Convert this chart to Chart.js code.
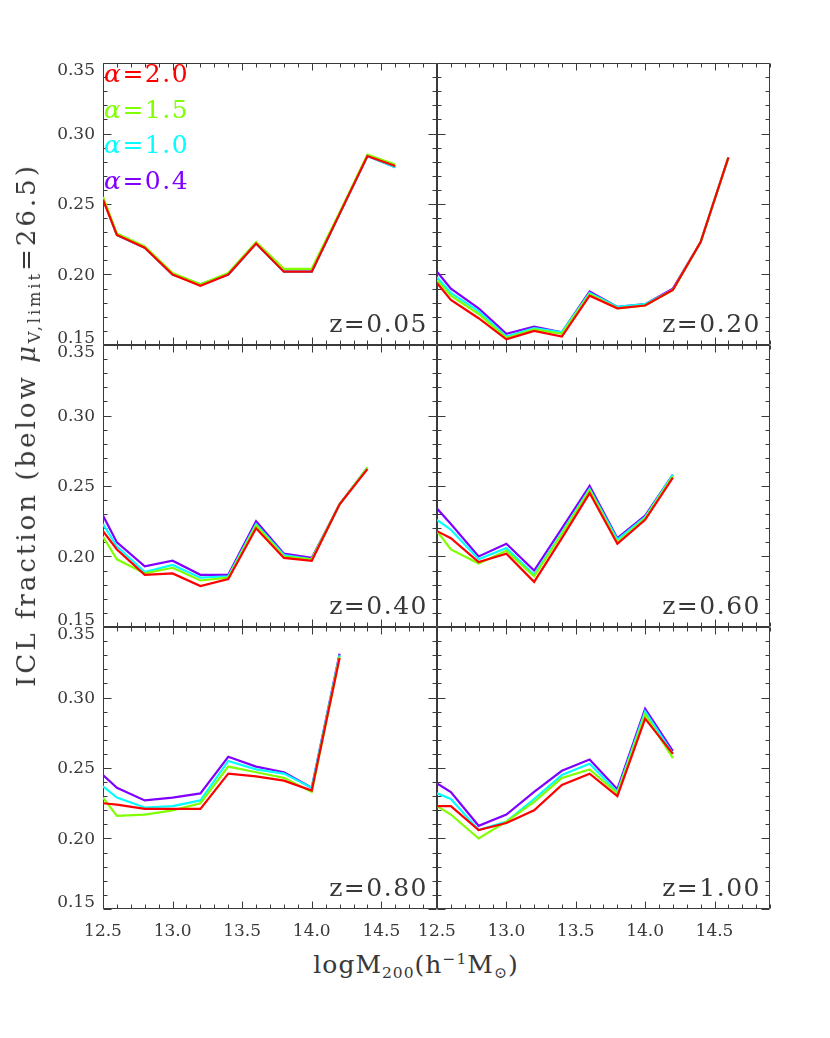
<!DOCTYPE html>
<html>
<head>
<meta charset="utf-8">
<script src="https://cdn.jsdelivr.net/npm/chart.js@4.4.0/dist/chart.umd.min.js"></script>
<style>
    body { margin: 0; background: #fff; }
    #wrap { position: relative; width: 830px; height: 1038px; overflow: hidden; font-family: "DejaVu Serif", serif; color: #383838; }
    canvas { position: absolute; }
    .txt { position: absolute; white-space: nowrap; font-size: 25px; line-height: 30px; letter-spacing: 1.5px; }
    .txt i { font-style: italic; }
    .sub { font-size: 0.62em; vertical-align: -0.3em; line-height: 0; }
    .sup { font-size: 0.62em; vertical-align: 0.6em; line-height: 0; }
    #xtitle { left: 0; width: 832px; text-align: center; top: 950px; letter-spacing: 1px; }
    #ytitle { position: absolute; left: 26px; top: 425px; width: 0; height: 0; }
    #ytitle div { position: absolute; white-space: nowrap; font-size: 26px; line-height: 30px; letter-spacing: 3px;
                  transform: translate(-50%, -50%) rotate(-90deg); }
</style>
</head>
<body>
<div id="wrap"></div>
<script>
// x positions of the mass bins (logM200)
var massBins = [12.5, 12.6, 12.8, 13.0, 13.2, 13.4, 13.6, 13.8, 14.0, 14.2, 14.4, 14.6];
var alphaLabels = ['2.0', '1.5', '1.0', '0.4'];
var alphaColors = ['#ff0000', '#80ff00', '#00ffff', '#8000ff'];
var redshifts = ['0.05', '0.20', '0.40', '0.60', '0.80', '1.00'];
var xTicks = [12.5, 13.0, 13.5, 14.0, 14.5];
var yTicks = [0.15, 0.20, 0.25, 0.30, 0.35];

// z = 0.05
var z005_a20 = [0.253, 0.228, 0.219, 0.200, 0.192, 0.200, 0.222, 0.202, 0.202, 0.243, 0.284, 0.277];
var z005_a15 = [0.255, 0.229, 0.220, 0.201, 0.193, 0.201, 0.223, 0.204, 0.204, 0.244, 0.285, 0.278];
var z005_a10 = [0.254, 0.228, 0.219, 0.200, 0.193, 0.200, 0.222, 0.202, 0.202, 0.243, 0.284, 0.276];
var z005_a04 = [0.254, 0.228, 0.219, 0.200, 0.193, 0.200, 0.222, 0.202, 0.202, 0.243, 0.284, 0.276];
// z = 0.20
var z020_a20 = [0.194, 0.182, 0.169, 0.154, 0.160, 0.156, 0.185, 0.176, 0.178, 0.189, 0.223, 0.283];
var z020_a15 = [0.196, 0.185, 0.172, 0.155, 0.161, 0.158, 0.186, 0.176, 0.178, 0.189, 0.223, 0.283];
var z020_a10 = [0.198, 0.187, 0.174, 0.156, 0.162, 0.159, 0.187, 0.177, 0.179, 0.189, 0.223, 0.283];
var z020_a04 = [0.202, 0.190, 0.176, 0.158, 0.163, 0.159, 0.188, 0.177, 0.179, 0.190, 0.223, 0.283];
// z = 0.40
var z040_a20 = [0.218, 0.205, 0.187, 0.188, 0.179, 0.184, 0.220, 0.199, 0.197, 0.237, 0.262];
var z040_a15 = [0.214, 0.198, 0.188, 0.192, 0.183, 0.185, 0.222, 0.200, 0.198, 0.237, 0.263];
var z040_a10 = [0.223, 0.207, 0.189, 0.194, 0.185, 0.186, 0.223, 0.201, 0.198, 0.237, 0.263];
var z040_a04 = [0.229, 0.210, 0.193, 0.197, 0.187, 0.187, 0.225, 0.202, 0.199, 0.237, 0.263];
// z = 0.60
var z060_a20 = [0.218, 0.213, 0.196, 0.202, 0.182, 0.213, 0.245, 0.209, 0.226, 0.256];
var z060_a15 = [0.218, 0.205, 0.195, 0.204, 0.186, 0.216, 0.247, 0.210, 0.227, 0.257];
var z060_a10 = [0.226, 0.219, 0.198, 0.206, 0.187, 0.217, 0.248, 0.212, 0.228, 0.258];
var z060_a04 = [0.234, 0.223, 0.200, 0.209, 0.190, 0.220, 0.250, 0.213, 0.229, 0.258];
// z = 0.80
var z080_a20 = [0.225, 0.224, 0.221, 0.221, 0.221, 0.246, 0.244, 0.241, 0.234, 0.328];
var z080_a15 = [0.229, 0.216, 0.217, 0.220, 0.225, 0.251, 0.247, 0.243, 0.233, 0.329];
var z080_a10 = [0.237, 0.229, 0.222, 0.223, 0.227, 0.255, 0.249, 0.246, 0.236, 0.330];
var z080_a04 = [0.245, 0.236, 0.227, 0.229, 0.232, 0.258, 0.251, 0.247, 0.236, 0.331];
// z = 1.00
var z100_a20 = [0.223, 0.223, 0.206, 0.211, 0.220, 0.238, 0.246, 0.230, 0.285, 0.260];
var z100_a15 = [0.223, 0.217, 0.200, 0.212, 0.226, 0.243, 0.249, 0.232, 0.288, 0.257];
var z100_a10 = [0.232, 0.228, 0.206, 0.212, 0.228, 0.245, 0.253, 0.233, 0.290, 0.260];
var z100_a04 = [0.239, 0.233, 0.209, 0.217, 0.233, 0.248, 0.256, 0.235, 0.292, 0.262];

// one entry per panel, alpha order 2.0, 1.5, 1.0, 0.4
var panelSeries = [
    [z005_a20, z005_a15, z005_a10, z005_a04],
    [z020_a20, z020_a15, z020_a10, z020_a04],
    [z040_a20, z040_a15, z040_a10, z040_a04],
    [z060_a20, z060_a15, z060_a10, z060_a04],
    [z080_a20, z080_a15, z080_a10, z080_a04],
    [z100_a20, z100_a15, z100_a10, z100_a04]
];

// panel grid in page pixels
var cols = [{ l: 103, w: 334 }, { l: 437, w: 333 }];
var rows = [{ t: 63, h: 282 }, { t: 345, h: 282 }, { t: 627, h: 282 }];
var pad = { left: 80, top: 20, right: 20, bottom: 40 };

var frameTicks = {
    id: 'frameTicks',
    beforeDatasetsDraw: function (chart, args, opts) {
        var ctx = chart.ctx, a = chart.chartArea;
        var xs = chart.scales.x, ys = chart.scales.y;
        var i, v, p, len;
        ctx.save();
        ctx.strokeStyle = '#3a3a3a';
        ctx.lineWidth = 1;
        ctx.beginPath();
        var L = Math.round(a.left) + 0.5, R = Math.round(a.right) - 0.5;
        var T = Math.round(a.top) + 0.5, B = Math.round(a.bottom) - 0.5;
        ctx.rect(L, T, R - L, B - T);
        // x ticks: minor every 0.1, major every 0.5
        for (i = 0; i <= 24; i++) {
            v = 12.5 + i * 0.1;
            p = Math.round(xs.getPixelForValue(v)) + 0.5;
            len = (i % 5 === 0) ? 7 : 4;
            ctx.moveTo(p, B); ctx.lineTo(p, B - len);
            ctx.moveTo(p, T); ctx.lineTo(p, T + len);
        }
        // y ticks: minor every 0.01, major every 0.05
        for (i = 0; i <= 20; i++) {
            v = 0.15 + i * 0.01;
            p = Math.round(ys.getPixelForValue(v)) + 0.5;
            len = (i % 5 === 0) ? 8 : 4;
            ctx.moveTo(L, p); ctx.lineTo(L + len, p);
            ctx.moveTo(R, p); ctx.lineTo(R - len, p);
        }
        ctx.stroke();

        ctx.fillStyle = '#383838';
        ctx.font = '17px "DejaVu Serif"';
        if (opts.yLabels) {
            ctx.textAlign = 'right';
            ctx.textBaseline = 'middle';
            yTicks.forEach(function (t, k) {
                var y = ys.getPixelForValue(t);
                if (k === 0) y -= 6;
                else if (k === yTicks.length - 1) y += 8;
                else y += 1;
                ctx.fillText(t.toFixed(2), a.left - 8, y);
            });
        }
        if (opts.xLabels) {
            ctx.textAlign = 'center';
            ctx.textBaseline = 'middle';
            xTicks.forEach(function (t) {
                ctx.fillText(t.toFixed(1), xs.getPixelForValue(t), a.bottom + 23);
            });
        }
        ctx.restore();
    }
};

var wrap = document.getElementById('wrap');

panelSeries.forEach(function (series, n) {
    var r = Math.floor(n / 2), c = n % 2;
    var col = cols[c], row = rows[r];
    var cv = document.createElement('canvas');
    var w = col.w + pad.left + pad.right, h = row.h + pad.top + pad.bottom;
    cv.width = w; cv.height = h;
    cv.style.width = w + 'px'; cv.style.height = h + 'px';
    cv.style.left = (col.l - pad.left) + 'px';
    cv.style.top = (row.t - pad.top) + 'px';
    wrap.appendChild(cv);

    // dataset 0 is drawn last, so alpha=2.0 (red) ends up on top
    var datasets = series.map(function (vals, k) {
        return {
            label: 'alpha=' + alphaLabels[k],
            data: vals.map(function (y, j) { return { x: massBins[j], y: y }; }),
            borderColor: alphaColors[k],
            borderWidth: 2.2,
            pointRadius: 0,
            tension: 0,
            fill: false
        };
    });

    new Chart(cv, {
        type: 'line',
        data: { datasets: datasets },
        options: {
            responsive: false,
            animation: false,
            events: [],
            layout: { padding: pad },
            scales: {
                x: { type: 'linear', min: 12.5, max: 14.9, display: false },
                y: { type: 'linear', min: 0.15, max: 0.35, display: false }
            },
            plugins: {
                legend: { display: false },
                tooltip: { enabled: false },
                frameTicks: { yLabels: c === 0, xLabels: r === 2 }
            }
        },
        plugins: [frameTicks]
    });

    // redshift label, lower right of each panel
    var zl = document.createElement('div');
    zl.className = 'txt';
    zl.textContent = 'z=' + redshifts[n];
    zl.style.right = (830 - (col.l + col.w - 9)) + 'px';
    zl.style.top = (row.t + row.h - 12 - 24) + 'px';
    wrap.appendChild(zl);
});

// alpha legend in the first panel
alphaLabels.forEach(function (a, k) {
    var d = document.createElement('div');
    d.className = 'txt';
    d.style.left = '104px';
    d.style.top = (59 + k * 35.5) + 'px';
    d.style.color = alphaColors[k];
    d.innerHTML = '<i>α</i>=' + a;
    wrap.appendChild(d);
});

var xt = document.createElement('div');
xt.id = 'xtitle';
xt.className = 'txt';
xt.innerHTML = 'logM<span class="sub">200</span>(h<span class="sup">−1</span>M<span class="sub">⊙</span>)';
wrap.appendChild(xt);

var yt = document.createElement('div');
yt.id = 'ytitle';
yt.innerHTML = '<div>ICL fraction (below <i>μ</i><span class="sub">V,limit</span>=26.5)</div>';
wrap.appendChild(yt);
</script>
</body>
</html>
